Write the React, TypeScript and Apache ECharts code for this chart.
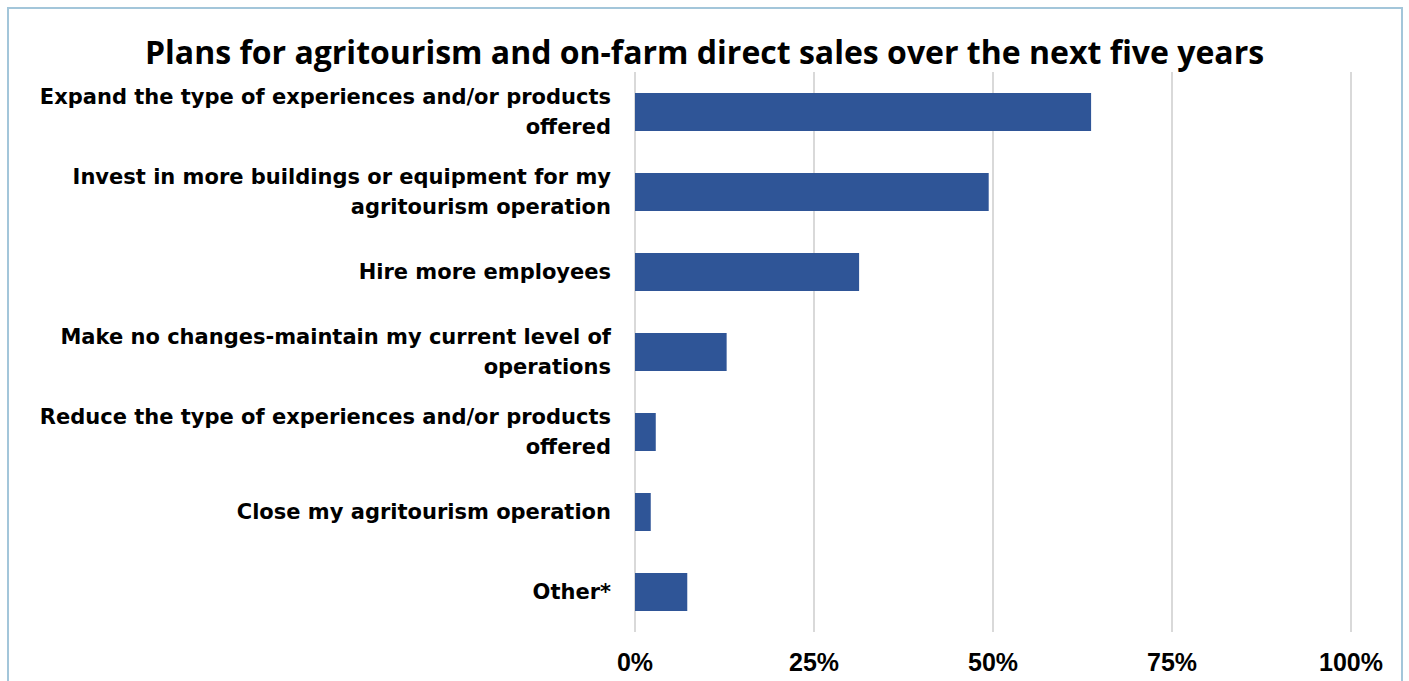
import React, { useEffect, useRef } from "react";
import * as echarts from "echarts";

const categories = [
  "Expand the type of experiences and/or products\noffered",
  "Invest in more buildings or equipment for my\nagritourism operation",
  "Hire more employees",
  "Make no changes-maintain my current level of\noperations",
  "Reduce the type of experiences and/or products\noffered",
  "Close my agritourism operation",
  "Other*",
];
const values = [63.7, 49.4, 31.3, 12.8, 2.9, 2.2, 7.3];
const tickValues = [0, 25, 50, 75, 100];
const titleText = "Plans for agritourism and on-farm direct sales over the next five years";

export default function App() {
  const ref = useRef<HTMLDivElement>(null);
  useEffect(() => {
    const chart = echarts.init(ref.current!, null, { renderer: "svg" });
    chart.setOption({
      animation: false,
      backgroundColor: "#ffffff",
      title: {
        text: titleText,
        left: "center",
        top: 30,
        textStyle: {
          fontFamily: "'Open Sans', 'Noto Sans', sans-serif",
          fontWeight: "bold",
          fontSize: 32,
          color: "#000000",
        },
      },
      graphic: [
        {
          type: "rect",
          shape: { x: 8, y: 8, width: 1394, height: 700 },
          style: { fill: "none", stroke: "#a3c6da", lineWidth: 2 },
          silent: true,
        },
      ],
      grid: { left: 635, right: 58, top: 72, bottom: 49 },
      xAxis: {
        type: "value",
        min: 0,
        max: 100,
        interval: 25,
        axisLine: { show: false },
        axisTick: { show: false },
        splitLine: { show: true, lineStyle: { color: "#d9d9d9", width: 2 } },
        axisLabel: {
          margin: 17,
          fontFamily: "'Liberation Sans', Arial, sans-serif",
          fontWeight: "bold",
          fontSize: 25,
          color: "#000000",
          formatter: (v: number) => (tickValues.includes(v) ? v + "%" : ""),
        },
      },
      yAxis: {
        type: "category",
        inverse: true,
        data: categories,
        axisLine: { show: false },
        axisTick: { show: false },
        axisLabel: {
          margin: 24,
          align: "right",
          lineHeight: 30,
          fontFamily: "'DejaVu Sans', sans-serif",
          fontWeight: "bold",
          fontSize: 21,
          color: "#000000",
        },
      },
      series: [
        {
          type: "bar",
          data: values,
          barWidth: 38,
          itemStyle: { color: "#2f5597" },
        },
      ],
    });
    return () => chart.dispose();
  }, []);
  return (
    <div
      ref={ref}
      style={{ position: "absolute", left: 0, top: 0, width: 1409, height: 681 }}
    />
  );
}
